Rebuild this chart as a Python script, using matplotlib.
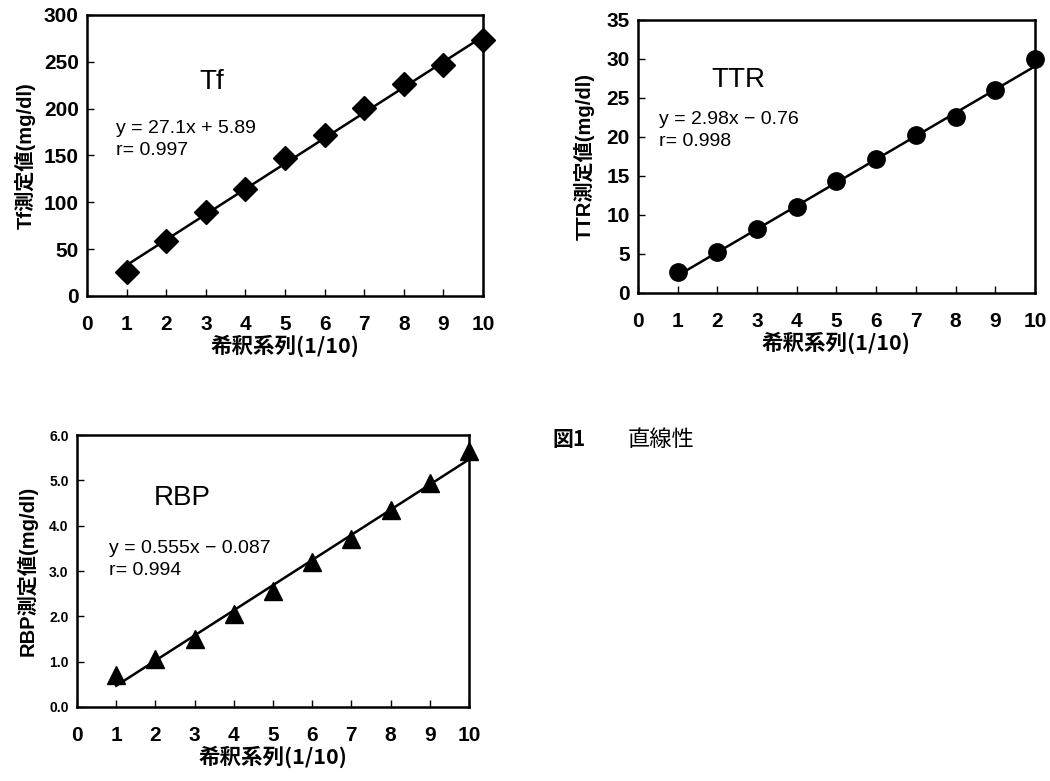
import numpy as np
import matplotlib
matplotlib.use("Agg")
import matplotlib.pyplot as plt

plt.rcParams['font.family'] = ['Liberation Sans', 'Noto Sans CJK JP', 'DejaVu Sans']

dilution = [1, 2, 3, 4, 5, 6, 7, 8, 9, 10]
x_ticks = [0, 1, 2, 3, 4, 5, 6, 7, 8, 9, 10]

tf_values = [26, 59, 90, 114, 147, 172, 201, 226, 246, 273]
ttr_values = [2.7, 5.3, 8.2, 11.0, 14.3, 17.1, 20.2, 22.5, 26.0, 30.0]
rbp_values = [0.7, 1.05, 1.5, 2.05, 2.55, 3.2, 3.7, 4.35, 4.95, 5.65]

tf_fit = (27.1, 5.89)
ttr_fit = (2.98, -0.76)
rbp_fit = (0.555, -0.087)

tf_yticks = [0, 50, 100, 150, 200, 250, 300]
ttr_yticks = [0, 5, 10, 15, 20, 25, 30, 35]
rbp_yticks = [0.0, 1.0, 2.0, 3.0, 4.0, 5.0, 6.0]

cjk = ['Noto Sans CJK JP', 'DejaVu Sans']

fig = plt.figure(figsize=(10.5, 7.81), dpi=100)


def panel(rect, values, fit, yticks, ylim, marker, msize, title, title_xy,
          eq_text, r_text, eq_xy, ylabel, ytick_fmt, ytick_size, ylpad):
    ax = fig.add_axes(rect)
    x = np.array(dilution)
    ax.plot(x, fit[0] * x + fit[1], color='black', lw=1.8, zorder=2)
    ax.plot(dilution, values, linestyle='none', marker=marker, markersize=msize,
            color='black', zorder=3, clip_on=False)
    ax.set_xlim(0, 10)
    ax.set_ylim(*ylim)
    ax.set_xticks(x_ticks)
    ax.set_yticks(yticks)
    ax.set_yticklabels([ytick_fmt.format(v) for v in yticks])
    for s in ax.spines.values():
        s.set_linewidth(1.8)
    ax.tick_params(axis='x', direction='in', length=5, width=1, pad=14,
                   labelsize=15)
    ax.tick_params(axis='y', direction='in', length=5, width=1, pad=6,
                   labelsize=ytick_size)
    for lab in ax.get_xticklabels() + ax.get_yticklabels():
        lab.set_fontweight('bold')
    ax.text(title_xy[0], title_xy[1], title, fontsize=20, ha='center',
            va='center')
    ax.text(eq_xy[0], eq_xy[1], eq_text + "\n" + r_text, fontsize=14,
            ha='left', va='center', linespacing=1.35)
    ax.set_xlabel('希釈系列(1/10)', family=cjk, fontsize=15.5,
                  fontweight='bold', labelpad=0)
    ax.set_ylabel(ylabel, family=['Liberation Sans', 'Noto Sans CJK JP'],
                  fontsize=14.5, fontweight='bold', labelpad=ylpad)
    return ax


panel([0.083, 0.621, 0.377, 0.360], tf_values, tf_fit, tf_yticks, (0, 300),
      'D', 12, 'Tf', (3.15, 228), 'y = 27.1x + 5.89', 'r= 0.997', (0.72, 167),
      'Tf測定値(mg/dl)', '{:.0f}', 15, 6)

panel([0.6076, 0.625, 0.378, 0.3496], ttr_values, ttr_fit, ttr_yticks, (0, 35),
      'o', 12.5, 'TTR', (2.52, 27.3), 'y = 2.98x − 0.76', 'r= 0.998', (0.52, 20.8),
      'TTR測定値(mg/dl)', '{:.0f}', 15, 8)

panel([0.0733, 0.0948, 0.3733, 0.348], rbp_values, rbp_fit, rbp_yticks, (0, 6),
      '^', 12.5, 'RBP', (2.68, 4.61), 'y = 0.555x − 0.087', 'r= 0.994', (0.82, 3.25),
      'RBP測定値(mg/dl)', '{:.1f}', 10, 8)

fig.text(0.526, 0.437, '図1', family=cjk, fontsize=15, fontweight='bold',
         va='center', ha='left')
fig.text(0.598, 0.437, '直線性', family=cjk, fontsize=16, va='center',
         ha='left')

fig.savefig('out.png', dpi=100)
plt.close(fig)
